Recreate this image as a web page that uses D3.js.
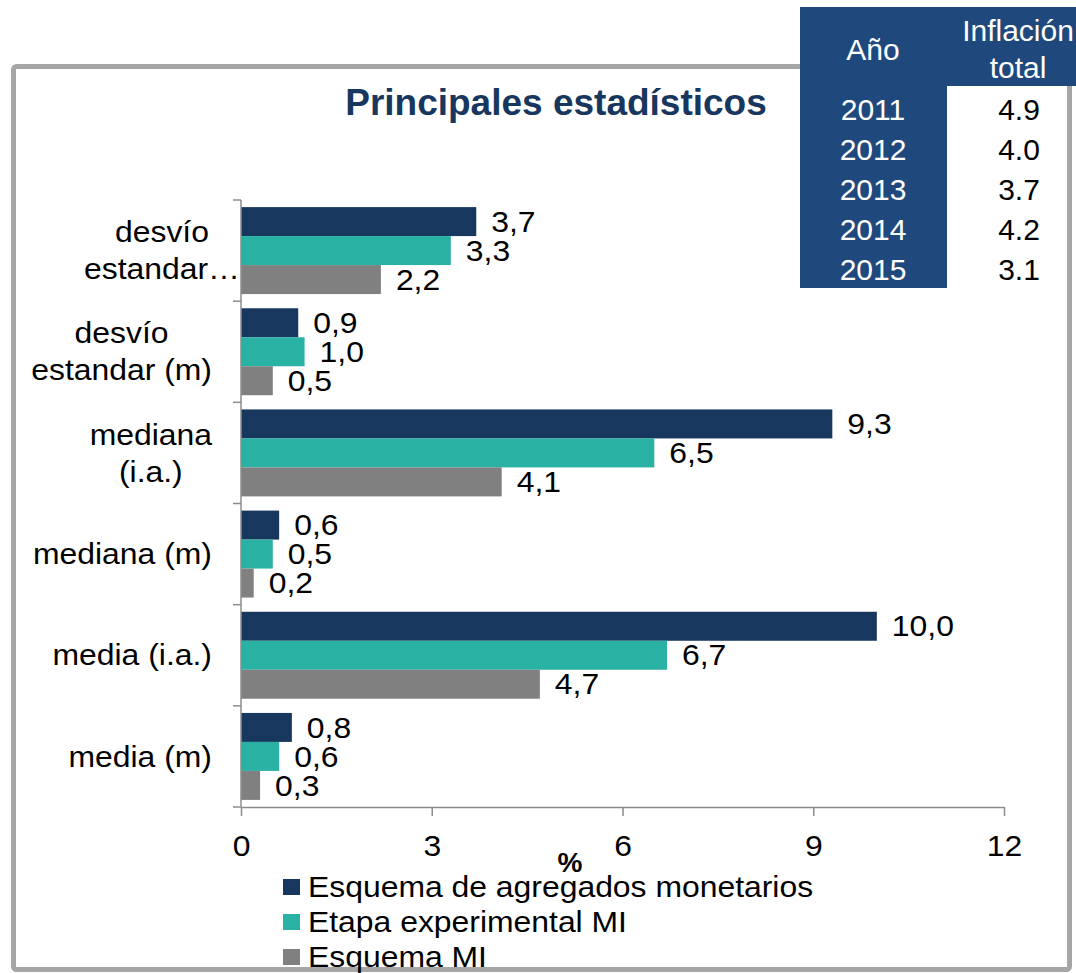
<!DOCTYPE html>
<meta charset="utf-8">
<style>

body {
  margin: 0;
  background: #fff;
}

text {
  font-family: "Liberation Sans", Arial, sans-serif;
}

.frame {
  fill: none;
  stroke: #a6a6a6;
  stroke-width: 5px;
}

.axis path,
.axis line {
  stroke: #8c8c8c;
  stroke-width: 1.5px;
}

</style>
<svg width="1076" height="973"></svg>
<script src="https://cdnjs.cloudflare.com/ajax/libs/d3/7.8.5/d3.min.js"></script>
<script>

// chart data (top to bottom as drawn)
var categories = ["desvío estandar (i.a.)", "desvío estandar (m)", "mediana (i.a.)",
                  "mediana (m)", "media (i.a.)", "media (m)"];
var categoryLines = [["desvío", "estandar…"], ["desvío", "estandar (m)"], ["mediana", "(i.a.)"],
                     ["mediana (m)"], ["media (i.a.)"], ["media (m)"]];
var seriesNames = ["Esquema de agregados monetarios", "Etapa experimental MI", "Esquema MI"];
var agregados    = [3.7, 0.9, 9.3, 0.6, 10.0, 0.8];
var experimental = [3.3, 1.0, 6.5, 0.5, 6.7, 0.6];
var esquemaMI    = [2.2, 0.5, 4.1, 0.2, 4.7, 0.3];
var xTicks = [0, 3, 6, 9, 12];

// table data
var tableHeader = ["Año", ["Inflación", "total"]];
var years = ["2011", "2012", "2013", "2014", "2015"];
var inflation = ["4.9", "4.0", "3.7", "4.2", "3.1"];

var colors = ["#17375e", "#29b1a4", "#808080"];
var SX = 1.1; // chart text is a bit wider than tall in the original

var svg = d3.select("svg"),
    width = +svg.attr("width"),
    height = +svg.attr("height");

function stretch(sel) {
  sel.each(function() {
    var t = d3.select(this), x = +t.attr("x") || 0;
    t.attr("transform", "translate(" + x * (1 - SX) + ",0) scale(" + SX + ",1)");
  });
}

var fmt = function(v) { return d3.format(".1f")(v).replace(".", ","); };

// outer frame
svg.append("rect")
    .attr("class", "frame")
    .attr("x", 13.5).attr("y", 66.5)
    .attr("width", 1056).attr("height", 903)
    .attr("rx", 3);

// title
svg.append("text")
    .attr("x", 556).attr("y", 115)
    .attr("text-anchor", "middle")
    .attr("font-size", 37)
    .attr("font-weight", "bold")
    .attr("fill", "#17375e")
    .text("Principales estadísticos");

// scales
var x = d3.scaleLinear().domain([0, 12]).range([241, 1004]);
var y = d3.scaleBand().domain(categories).range([200, 807]).padding(0);
var ys = d3.scaleBand().domain(d3.range(3)).range([0, y.bandwidth()]).paddingOuter(0.245);

var rows = categories.map(function(c, i) {
  return {cat: c, lines: categoryLines[i], vals: [agregados[i], experimental[i], esquemaMI[i]]};
});

// bars
var groups = svg.append("g").selectAll("g")
    .data(rows)
  .enter().append("g")
    .attr("transform", function(d) { return "translate(0," + y(d.cat) + ")"; });

groups.selectAll("rect")
    .data(function(d) { return d.vals; })
  .enter().append("rect")
    .attr("x", x(0))
    .attr("y", function(d, j) { return ys(j); })
    .attr("width", function(d) { return x(d) - x(0); })
    .attr("height", ys.bandwidth())
    .attr("fill", function(d, j) { return colors[j]; });

groups.selectAll("text")
    .data(function(d) { return d.vals; })
  .enter().append("text")
    .attr("x", function(d) { return x(d) + 15; })
    .attr("y", function(d, j) { return ys(j) + ys.bandwidth() / 2; })
    .attr("dy", "0.35em")
    .attr("font-size", 29)
    .attr("fill", "#000")
    .text(fmt)
    .call(stretch);

// x axis
svg.append("g")
    .attr("class", "axis")
    .attr("transform", "translate(0,807)")
    .call(d3.axisBottom(x).tickValues(xTicks).tickSize(9).tickSizeOuter(0).tickPadding(19))
    .call(function(g) {
      g.selectAll("text").attr("font-size", 29).attr("fill", "#000").attr("font-family", null).call(stretch);
    });

// y axis line and category boundary ticks
var yAxis = svg.append("g").attr("class", "axis");
yAxis.append("line")
    .attr("x1", x(0)).attr("x2", x(0))
    .attr("y1", y.range()[0]).attr("y2", y.range()[1]);
yAxis.selectAll(".bound")
    .data(categories.map(function(c) { return y(c); }).concat([y.range()[1]]))
  .enter().append("line")
    .attr("x1", x(0) - 8).attr("x2", x(0))
    .attr("y1", function(d) { return d; }).attr("y2", function(d) { return d; });

// category labels (centered lines, right aligned block)
var labels = svg.append("g").selectAll("text")
    .data(rows)
  .enter().append("text")
    .attr("font-size", 29)
    .attr("fill", "#000")
    .attr("text-anchor", "middle");

labels.each(function(d) {
  var t = d3.select(this),
      n = d.lines.length,
      cy = y(d.cat) + y.bandwidth() / 2;
  d.lines.forEach(function(line, k) {
    t.append("tspan")
        .attr("y", cy + (k - (n - 1) / 2) * 37)
        .attr("dy", "0.35em")
        .text(line);
  });
  var w = 0;
  t.selectAll("tspan").each(function() { w = Math.max(w, this.getComputedTextLength() * SX); });
  var right = /…$/.test(d.lines[n - 1]) ? 240 : 212;
  var cx = right - w / 2;
  t.attr("x", cx);
  t.selectAll("tspan").attr("x", cx);
});
labels.call(stretch);

// axis title
svg.append("text")
    .attr("x", 570).attr("y", 872)
    .attr("text-anchor", "middle")
    .attr("font-size", 28)
    .attr("font-weight", "bold")
    .attr("fill", "#000")
    .text("%");

// legend
var legend = svg.append("g").selectAll("g")
    .data(seriesNames)
  .enter().append("g")
    .attr("transform", function(d, i) { return "translate(283," + (887 + i * 35) + ")"; });

legend.append("rect")
    .attr("x", 0).attr("y", -8)
    .attr("width", 17).attr("height", 16)
    .attr("fill", function(d, i) { return colors[i]; });

legend.append("text")
    .attr("x", 25).attr("y", 0)
    .attr("dy", "0.35em")
    .attr("font-size", 29)
    .attr("fill", "#000")
    .text(function(d) { return d; })
    .call(stretch);

// inflation table
var table = svg.append("g");
table.append("rect").attr("x", 800).attr("y", 7).attr("width", 276).attr("height", 79).attr("fill", "#1f497d");
table.append("rect").attr("x", 800).attr("y", 7).attr("width", 147).attr("height", 281).attr("fill", "#1f497d");
table.append("rect").attr("x", 947).attr("y", 86).attr("width", 119).attr("height", 202).attr("fill", "#fff");

table.append("text")
    .attr("x", 873).attr("y", 60)
    .attr("text-anchor", "middle").attr("font-size", 30).attr("fill", "#fff")
    .text(tableHeader[0]);

table.append("text")
    .attr("text-anchor", "middle").attr("font-size", 30).attr("fill", "#fff")
  .selectAll("tspan")
    .data(tableHeader[1])
  .enter().append("tspan")
    .attr("x", 1018)
    .attr("y", function(d, i) { return 41 + i * 37; })
    .text(function(d) { return d; });

table.selectAll(".yr")
    .data(years)
  .enter().append("text")
    .attr("x", 873)
    .attr("y", function(d, i) { return 120 + i * 40; })
    .attr("text-anchor", "middle").attr("font-size", 30).attr("fill", "#fff")
    .text(function(d) { return d; });

table.selectAll(".val")
    .data(inflation)
  .enter().append("text")
    .attr("x", 1019)
    .attr("y", function(d, i) { return 120 + i * 40; })
    .attr("text-anchor", "middle").attr("font-size", 30).attr("fill", "#000")
    .text(function(d) { return d; });

</script>
